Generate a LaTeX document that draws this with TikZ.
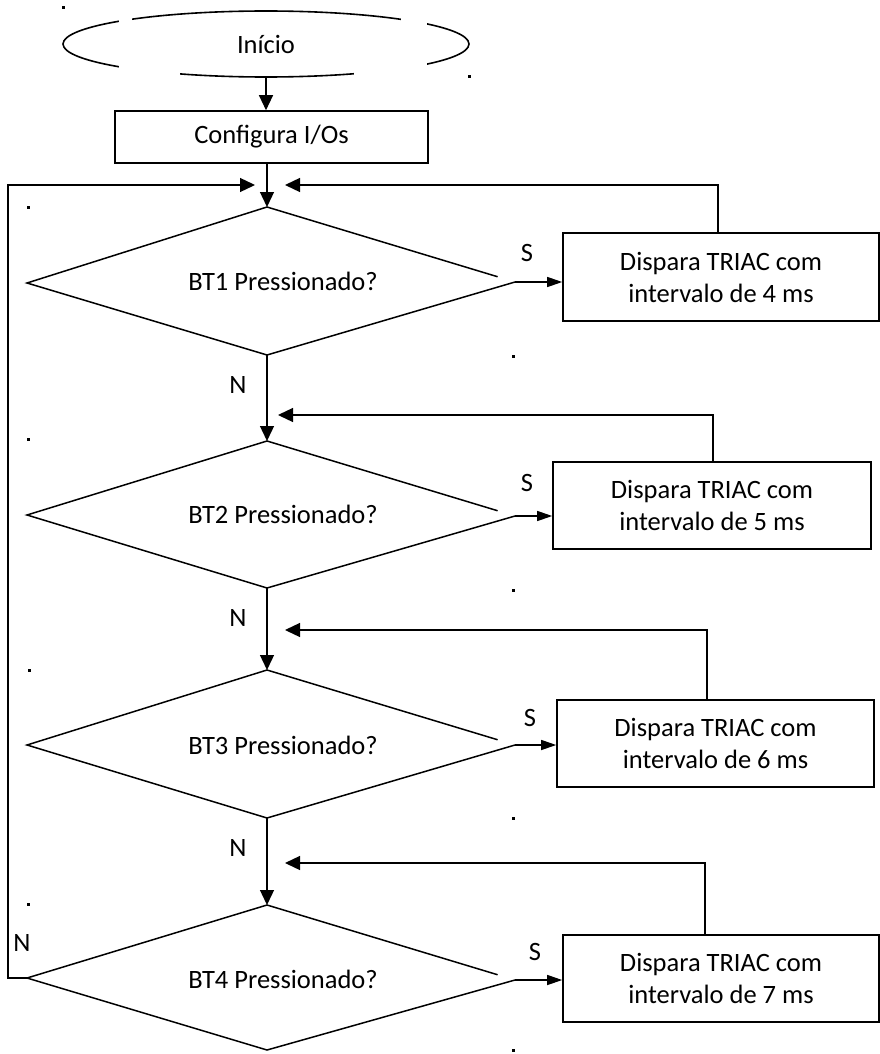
\documentclass[tikz,border=0pt]{standalone}
\usepackage{fontspec}
\setmainfont{Carlito}
\usetikzlibrary{arrows.meta,shapes.geometric,calc}
\begin{document}
\begin{tikzpicture}[x=1pt,y=-1pt,line width=1.5pt,
  txt/.style={font=\fontsize{26.5}{32}\selectfont, inner sep=0pt, align=center},
  box/.style={draw, line width=1.6pt, font=\fontsize{26.5}{32}\selectfont, align=center, inner sep=0pt},
  arr/.style={line width=1.3pt, -{Triangle[length=15pt,width=14pt]}},
  sarr/.style={line width=1.3pt, -{Triangle[length=15pt,width=10pt]}},
  dot/.style={fill, inner sep=0pt, minimum size=3pt},
  dmd/.style={line width=1.5pt, line join=miter}]
\useasboundingbox (0,0) rectangle (880,1054);

% start ellipse (drawn with gaps)
\node[draw, ellipse, line width=1.6pt, minimum width=406pt, minimum height=66pt, inner sep=0pt,
      font=\fontsize{26.5}{32}\selectfont] (ini) at (266,44) {Início};
\fill[white] (118.5,2) rectangle (131.5,32);
\fill[white] (400.5,2) rectangle (426.5,32);
\fill[white] (118.5,54) rectangle (179.5,86);
\fill[white] (353.5,54) rectangle (426.5,86);

% configure box
\node[box, minimum width=313pt, minimum height=52pt] (cfg) at (271.5,137) {Configura I/Os};

% diamond vertices
\coordinate (d1t) at (267,207); \coordinate (d1l) at (27,283); \coordinate (d1b) at (267,355); \coordinate (d1r) at (515,282);
\coordinate (d2t) at (267,441); \coordinate (d2l) at (27,515); \coordinate (d2b) at (267,588); \coordinate (d2r) at (515,516);
\coordinate (d3t) at (267,670); \coordinate (d3l) at (27,745); \coordinate (d3b) at (267,818); \coordinate (d3r) at (515,745);
\coordinate (d4t) at (267,905); \coordinate (d4l) at (27,978); \coordinate (d4b) at (267,1050); \coordinate (d4r) at (515,980);

\foreach \i in {1,2,3,4}{
  \draw[dmd] (d\i r) -- (d\i b) -- (d\i l) -- (d\i t) -- ($(d\i t)!0.93!(d\i r)$);
}
\node[txt] (q1) at (283,281) {BT1 Pressionado?};
\node[txt] (q2) at (283,514) {BT2 Pressionado?};
\node[txt] (q3) at (283,745) {BT3 Pressionado?};
\node[txt] (q4) at (283,979) {BT4 Pressionado?};

% action boxes
\node[box, minimum width=316pt, minimum height=88pt] (b1) at (721,277) {Dispara TRIAC com\\intervalo de 4 ms};
\node[box, minimum width=318pt, minimum height=87pt] (b2) at (712,505.5) {Dispara TRIAC com\\intervalo de 5 ms};
\node[box, minimum width=317pt, minimum height=87pt] (b3) at (715.5,743.5) {Dispara TRIAC com\\intervalo de 6 ms};
\node[box, minimum width=316pt, minimum height=87pt] (b4) at (721,978.5) {Dispara TRIAC com\\intervalo de 7 ms};

% main vertical flow
\draw[arr] (ini.south) -- (ini.south |- cfg.north);
\draw[arr] (cfg.south -| d1t) -- (d1t);
\draw[arr] (d1b) -- (d2t);
\draw[arr] (d2b) -- (d3t);
\draw[arr] (d3b) -- (d4t);

% S branches
\draw[sarr] (d1r) -- (b1.west |- d1r);
\draw[sarr] (d2r) -- (b2.west |- d2r);
\draw[sarr] (d3r) -- (b3.west |- d3r);
\draw[sarr] (d4r) -- (b4.west |- d4r);

% return loops
\coordinate (j1) at (285,185);
\coordinate (j2) at (278,415);
\coordinate (j3) at (285,630);
\coordinate (j4) at (285,863);
\draw[arr] ([xshift=-3pt]b1.north) |- (j1);
\draw[arr] ([xshift=1pt]b2.north) |- (j2);
\draw[arr] ([xshift=-8.5pt]b3.north) |- (j3);
\draw[arr] ([xshift=-16pt]b4.north) |- (j4);

% N loop back to top
\coordinate (lc1) at (8,978);
\coordinate (lc2) at (8,185);
\coordinate (j0) at (255,185);
\draw[arr] (d4l) -- (lc1) -- (lc2) -- (j0);

% labels
\node[txt] (s1) at (527,253) {S};
\node[txt] (s2) at (527,483) {S};
\node[txt] (s3) at (530,718) {S};
\node[txt] (s4) at (535,952) {S};
\node[txt] (n1) at (238,385) {N};
\node[txt] (n2) at (238,618) {N};
\node[txt] (n3) at (238,848) {N};
\node[txt] (n4) at (22,943) {N};

% stray dots
\foreach \p [count=\k] in {(63,8),(469,77),(28,207),(513,356),(28,439),(513,590),(29,670),(513,818),(28,904),(513,1050)}
  \node[dot] (dot\k) at \p {};
\end{tikzpicture}
\end{document}
